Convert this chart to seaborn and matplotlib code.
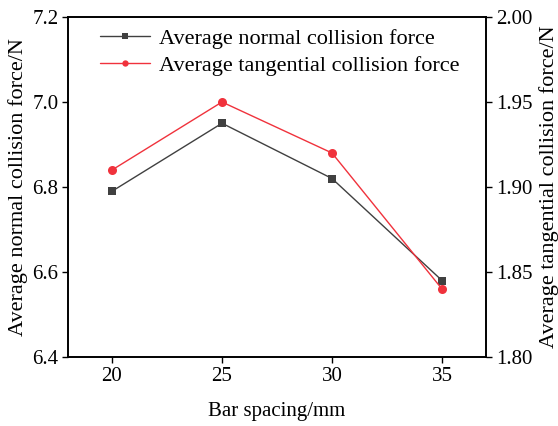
import matplotlib
matplotlib.use("Agg")
import matplotlib.pyplot as plt
import seaborn as sns
import pandas as pd

spacing = [20, 25, 30, 35]
normal_force = [6.79, 6.95, 6.82, 6.58]
tangential_force = [1.91, 1.95, 1.92, 1.84]
left_ticks = [6.4, 6.6, 6.8, 7.0, 7.2]
right_ticks = [1.80, 1.85, 1.90, 1.95, 2.00]

sns.set_theme(style="ticks")
plt.rcParams["font.family"] = ["Liberation Serif", "DejaVu Serif"]
plt.rcParams["mathtext.fontset"] = "stix"
plt.rcParams["text.color"] = "black"
plt.rcParams["axes.labelcolor"] = "black"
plt.rcParams["xtick.color"] = "black"
plt.rcParams["ytick.color"] = "black"

df = pd.DataFrame({"spacing": spacing, "normal": normal_force, "tangential": tangential_force})

W, H = 558, 426
fig = plt.figure(figsize=(W/100, H/100), dpi=100)
L, R, T, B = 68, 486, 17, 357
ax = fig.add_axes([L/W, 1-B/H, (R-L)/W, (B-T)/H])
ax2 = ax.twinx()

c_black = "#404040"
c_red = "#f0323c"
sns.lineplot(data=df, x="spacing", y="normal", ax=ax, color=c_black, marker="s",
             markersize=6, markeredgewidth=0, linewidth=1.0, label="Average normal collision force", legend=False)
sns.lineplot(data=df, x="spacing", y="tangential", ax=ax2, color=c_red, marker="o",
             markersize=6.5, markeredgewidth=0, linewidth=1.0, label="Average tangential collision force", legend=False)

ax.set_xlim(18, 37)
ax.set_ylim(6.4, 7.2)
ax2.set_ylim(1.80, 2.00)
ax.set_xticks(spacing)
ax.set_yticks(left_ticks)
ax.set_yticklabels([f"{v:.1f}" for v in left_ticks])
ax2.set_yticks(right_ticks)
ax2.set_yticklabels([f"{v:.2f}" for v in right_ticks])

ax.set_xlabel("Bar spacing/mm", fontsize=15, labelpad=12, color="black")
ax.set_ylabel("Average normal collision force/N", fontsize=16, labelpad=3, color="black")
ax2.set_ylabel("Average tangential collision force/N", fontsize=16, labelpad=5, color="black")
for a in (ax, ax2):
    a.tick_params(axis="both", labelsize=15, direction="out", length=4, width=1.0,
                  color="black", labelcolor="black", pad=3)
    for s in a.spines.values():
        s.set_linewidth(1.2)
        s.set_color("black")

h1, l1 = ax.get_legend_handles_labels()
h2, l2 = ax2.get_legend_handles_labels()
leg = ax.legend(h1 + h2, l1 + l2, loc="upper left", bbox_to_anchor=((100-L)/(R-L), 1 - (28-T)/(B-T)),
                frameon=False, fontsize=16, handlelength=2.25, labelspacing=0.3, handletextpad=0.4,
                borderaxespad=0.0, borderpad=0.0, markerscale=0.7)
for t in leg.get_texts():
    t.set_color("black")

fig.savefig("out.png", dpi=100)
